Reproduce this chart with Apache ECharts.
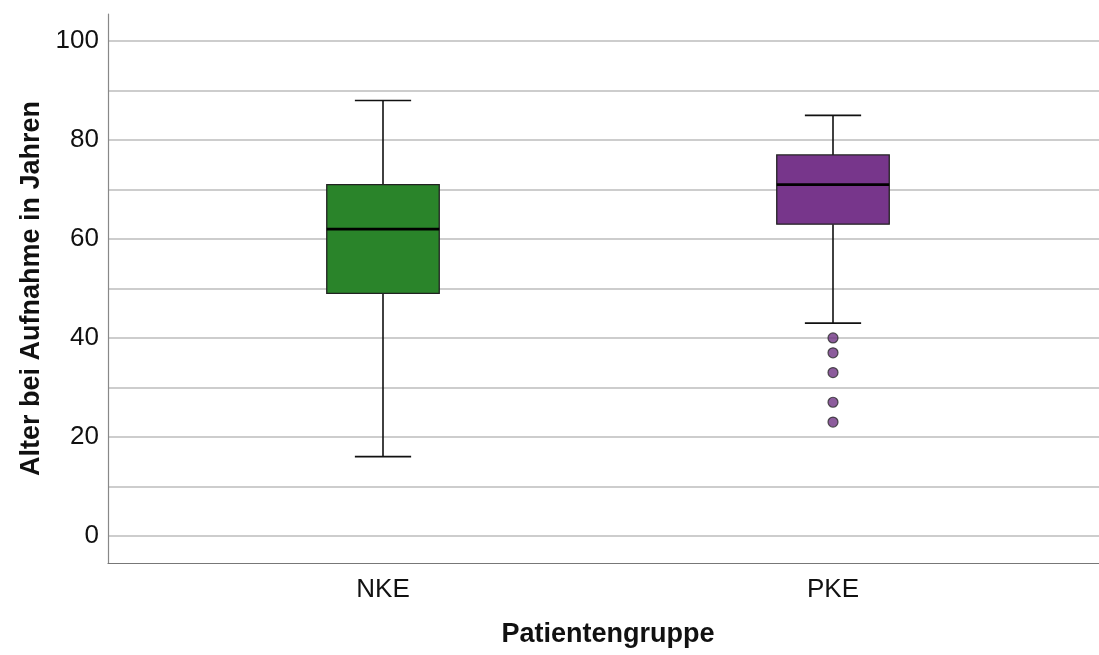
<!DOCTYPE html>
<html lang="de">
<head>
  <meta charset="UTF-8">
  <title>Alter bei Aufnahme nach Patientengruppe</title>
  <script src="https://cdn.jsdelivr.net/npm/echarts@6/dist/echarts.min.js"></script>
  <style>
    * { margin: 0; padding: 0; }
    html, body { width: 100%; height: 100%; background: #fff; }
    #chartbox { width: 1099px; height: 655px; }
  </style>
</head>
<body>
<div id="chartbox"></div>
<script>
  // Kategorien und Boxplot-Kennwerte (min, Q1, Median, Q3, max)
  const groups = ['NKE', 'PKE'];
  const whiskerLow = [16, 43];
  const quartile1 = [49, 63];
  const medians = [62, 71];
  const quartile3 = [71, 77];
  const whiskerHigh = [88, 85];
  // Ausreißer der Gruppe PKE
  const outliersPKE = [40, 37, 33, 27, 23];
  // Achsen
  const labelTicks = [0, 20, 40, 60, 80, 100];
  const gridTicks = [0, 10, 20, 30, 40, 50, 60, 70, 80, 90, 100];

  const boxColors = ['#2a842a', '#77368b'];
  const font = '"Liberation Sans", Arial, sans-serif';

  const boxData = groups.map((g, i) => [i, whiskerLow[i], quartile1[i], medians[i], quartile3[i], whiskerHigh[i]]);
  const outlierData = outliersPKE.map(v => [groups.indexOf('PKE'), v]);

  function renderBox(params, api) {
    const idx = api.value(0);
    const band = api.size([1, 0])[0];
    const boxW = band * 0.25;
    const capW = boxW / 2;
    const pLow = api.coord([idx, api.value(1)]);
    const pQ1 = api.coord([idx, api.value(2)]);
    const pMed = api.coord([idx, api.value(3)]);
    const pQ3 = api.coord([idx, api.value(4)]);
    const pHigh = api.coord([idx, api.value(5)]);
    const cx = pMed[0];
    const lineStyle = { stroke: '#111', lineWidth: 1.6 };
    return {
      type: 'group',
      children: [
        { type: 'line', shape: { x1: cx, y1: pHigh[1], x2: cx, y2: pQ3[1] }, style: lineStyle },
        { type: 'line', shape: { x1: cx, y1: pQ1[1], x2: cx, y2: pLow[1] }, style: lineStyle },
        { type: 'line', shape: { x1: cx - capW / 2, y1: pHigh[1], x2: cx + capW / 2, y2: pHigh[1] }, style: lineStyle },
        { type: 'line', shape: { x1: cx - capW / 2, y1: pLow[1], x2: cx + capW / 2, y2: pLow[1] }, style: lineStyle },
        {
          type: 'rect',
          shape: { x: cx - boxW / 2, y: pQ3[1], width: boxW, height: pQ1[1] - pQ3[1] },
          style: { fill: boxColors[idx], stroke: '#222', lineWidth: 1.3 }
        },
        { type: 'line', shape: { x1: cx - boxW / 2, y1: pMed[1], x2: cx + boxW / 2, y2: pMed[1] }, style: { stroke: '#000', lineWidth: 2.6 } }
      ]
    };
  }

  const chart = echarts.init(document.getElementById('chartbox'));
  const option = {
    backgroundColor: '#fff',
    animation: false,
    grid: [
      { left: 108, right: 0, top: 14, bottom: 92 },
      { left: 158, right: 41, top: 14, bottom: 92 }
    ],
    xAxis: [
      {
        gridIndex: 0, type: 'value', min: 0, max: 1,
        axisLine: { show: true, onZero: false, lineStyle: { color: '#777', width: 1.2 } },
        axisTick: { show: false }, axisLabel: { show: false }, splitLine: { show: false }
      },
      {
        gridIndex: 1, type: 'category', data: groups,
        axisLine: { show: false }, axisTick: { show: false }, splitLine: { show: false },
        axisLabel: { fontFamily: font, fontSize: 26, color: '#111', margin: 14 },
        name: 'Patientengruppe', nameLocation: 'middle', nameGap: 58,
        nameTextStyle: { fontFamily: font, fontSize: 27, fontWeight: 'bold', color: '#111' }
      }
    ],
    yAxis: [
      {
        gridIndex: 0, type: 'value', min: -5.5, max: 105.5,
        axisLine: { show: true, onZero: false, lineStyle: { color: '#888', width: 1.2 } },
        axisTick: { show: false, customValues: gridTicks },
        axisLabel: {
          customValues: labelTicks, fontFamily: font, fontSize: 26, color: '#111',
          margin: 9, padding: [6, 0, 0, 0]
        },
        splitLine: { show: true, lineStyle: { color: '#bcbcbc', width: 1.6 } },
        name: 'Alter bei Aufnahme in Jahren', nameLocation: 'middle', nameGap: 54,
        nameTextStyle: { fontFamily: font, fontSize: 27, fontWeight: 'bold', color: '#111' }
      },
      {
        gridIndex: 1, type: 'value', min: -5.5, max: 105.5, show: false
      }
    ],
    series: [
      {
        name: 'Boxplot', type: 'custom', xAxisIndex: 1, yAxisIndex: 1,
        renderItem: renderBox, data: boxData, z: 3
      },
      {
        name: 'Ausreißer', type: 'scatter', xAxisIndex: 1, yAxisIndex: 1,
        data: outlierData, symbolSize: 10, z: 4,
        itemStyle: { color: '#6f3383', borderColor: '#2a2a2a', borderWidth: 1.2 }
      }
    ]
  };
  chart.setOption(option);
</script>
</body>
</html>
